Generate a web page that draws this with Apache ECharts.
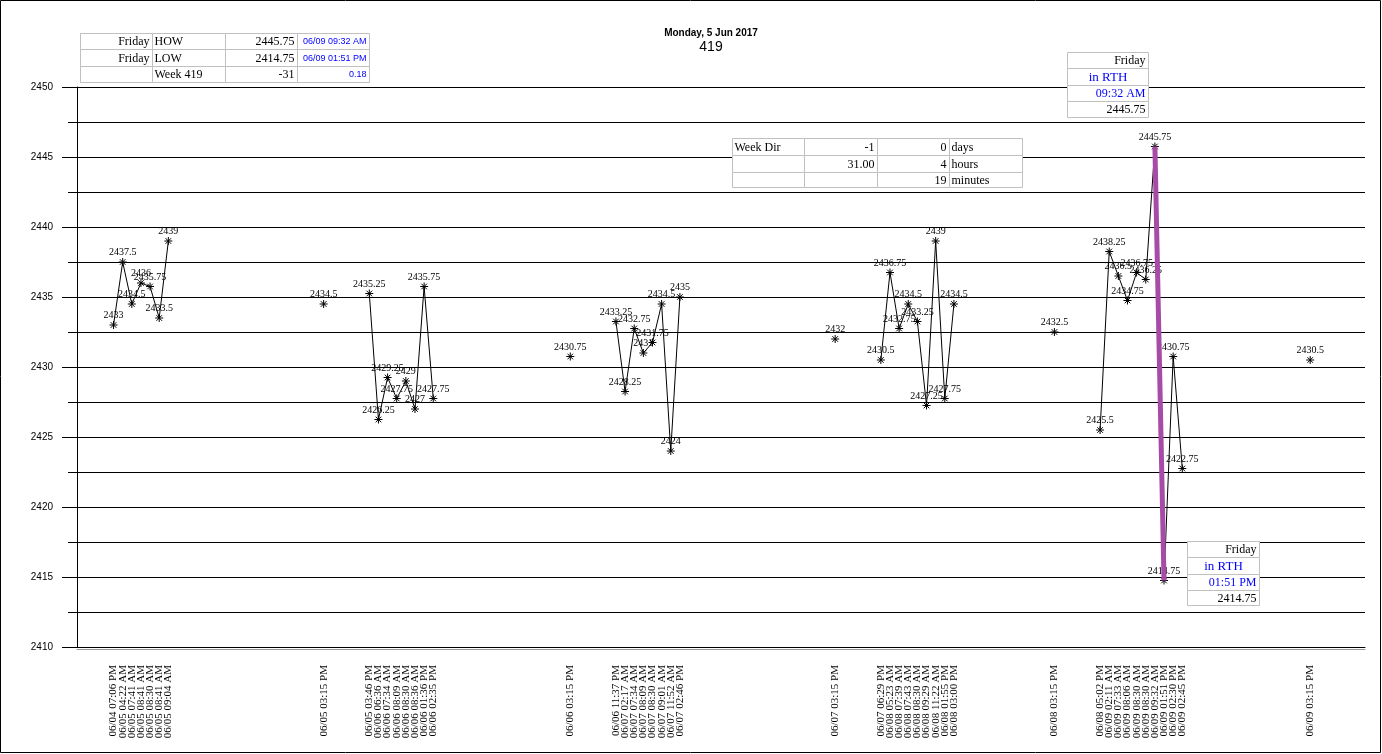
<!DOCTYPE html>
<html>
<head>
<meta charset="utf-8">
<script src="https://cdn.jsdelivr.net/npm/echarts/dist/echarts.min.js"></script>
<style>html,body{margin:0;padding:0;background:#fff;}#c{width:1382px;height:754px;}</style>
</head>
<body>
<div id="c"></div>
<script>
// ---- data ----
const timeLabels = [
  '06/04 07:06 PM','06/05 04:22 AM','06/05 07:41 AM','06/05 08:41 AM','06/05 08:30 AM','06/05 08:41 AM','06/05 09:04 AM',
  '06/05 03:15 PM',
  '06/05 03:46 PM','06/06 06:36 AM','06/06 07:34 AM','06/06 08:09 AM','06/06 08:30 AM','06/06 08:36 AM','06/06 01:36 PM','06/06 02:35 PM',
  '06/06 03:15 PM',
  '06/06 11:37 PM','06/07 02:17 AM','06/07 07:34 AM','06/07 08:09 AM','06/07 08:30 AM','06/07 09:01 AM','06/07 11:52 AM','06/07 02:46 PM',
  '06/07 03:15 PM',
  '06/07 06:29 PM','06/08 05:23 AM','06/08 07:39 AM','06/08 07:43 AM','06/08 08:30 AM','06/08 09:29 AM','06/08 11:22 AM','06/08 01:55 PM','06/08 03:00 PM',
  '06/08 03:15 PM',
  '06/08 05:02 PM','06/09 02:11 AM','06/09 07:33 AM','06/09 08:06 AM','06/09 08:30 AM','06/09 08:30 AM','06/09 09:32 AM','06/09 01:51 PM','06/09 02:30 PM','06/09 02:45 PM',
  '06/09 03:15 PM'
];
const prices = [
  2433, 2437.5, 2434.5, 2436, 2435.75, 2433.5, 2439,
  2434.5,
  2435.25, 2426.25, 2429.25, 2427.75, 2429, 2427, 2435.75, 2427.75,
  2430.75,
  2433.25, 2428.25, 2432.75, 2431, 2431.75, 2434.5, 2424, 2435,
  2432,
  2430.5, 2436.75, 2432.75, 2434.5, 2433.25, 2427.25, 2439, 2427.75, 2434.5,
  2432.5,
  2425.5, 2438.25, 2436.5, 2434.75, 2436.75, 2436.25, 2445.75, 2414.75, 2430.75, 2422.75,
  2430.5
];
// empty category slots placed before each point (breaks between sessions)
const gapBefore = [
  4, 0, 0, 0, 0, 0, 0,
  16,
  4, 0, 0, 0, 0, 0, 0, 0,
  14,
  4, 0, 0, 0, 0, 0, 0, 0,
  16,
  4, 0, 0, 0, 0, 0, 0, 0, 0,
  10,
  4, 0, 0, 0, 0, 0, 0, 0, 0, 0,
  13
];
const trailingGap = 6;
const yTicks = {min: 2410, max: 2450, step: 5};

// ---- build category axis ----
const cats = [], vals = [];
timeLabels.forEach((t, i) => {
  for (let k = 0; k < gapBefore[i]; k++) { cats.push(''); vals.push(null); }
  cats.push(t); vals.push(prices[i]);
});
for (let k = 0; k < trailingGap; k++) { cats.push(''); vals.push(null); }

const hi = Math.max(...prices), lo = Math.min(...prices);
const hiIdx = vals.indexOf(hi), loIdx = vals.indexOf(lo);
const hiLoVals = vals.map((v, i) => (i === hiIdx || i === loIdx) ? v : null);

// ---- tables (graphic) ----
const SERIF = '12px "Liberation Serif"';
const SMALL = '9px "Liberation Sans"';
const BLUE = '#0000ff';
function table(x, y, colW, rowH, rows) {
  const els = [];
  let yy = y;
  rows.forEach((row, r) => {
    let xx = x;
    row.forEach((cell, c) => {
      const w = colW[c], h = rowH[r];
      els.push({type: 'rect', shape: {x: xx, y: yy, width: w, height: h},
        style: {fill: '#fff', stroke: '#c0c0c0', lineWidth: 1}, z: 100});
      if (cell && cell.t !== '') {
        const al = cell.a || 'left';
        const tx = al === 'left' ? xx + 2 : al === 'right' ? xx + w - 3 : xx + w / 2;
        els.push({type: 'text', x: tx, y: yy + h / 2 + 0.5, z: 101,
          style: {text: cell.t, font: cell.f || SERIF, fill: cell.col || '#000',
            textAlign: al, textVerticalAlign: 'middle', align: al, verticalAlign: 'middle'}});
      }
      xx += w;
    });
    yy += rowH[r];
  });
  return els;
}
const fmt = v => String(v);
const graphics = [].concat(
  [{type: 'rect', shape: {x: 0.5, y: 0.5, width: 1380, height: 752}, style: {fill: 'none', stroke: '#000', lineWidth: 1}, z: 200}],
  [{type: 'text', x: 711, y: 33, style: {text: 'Monday, 5 Jun 2017', font: 'bold 10px "Liberation Sans"', fill: '#000', textAlign: 'center', textVerticalAlign: 'middle', align: 'center', verticalAlign: 'middle'}},
   {type: 'text', x: 711, y: 47, style: {text: '419', font: '14px "Liberation Sans"', fill: '#000', textAlign: 'center', textVerticalAlign: 'middle', align: 'center', verticalAlign: 'middle'}}],
  table(80.5, 33.5, [72, 73, 72, 72], [16, 17, 16], [
    [{t: 'Friday', a: 'right'}, {t: 'HOW'}, {t: fmt(hi), a: 'right'}, {t: '06/09 09:32 AM', a: 'right', f: SMALL, col: BLUE}],
    [{t: 'Friday', a: 'right'}, {t: 'LOW'}, {t: fmt(lo), a: 'right'}, {t: '06/09 01:51 PM', a: 'right', f: SMALL, col: BLUE}],
    [{t: ''}, {t: 'Week 419'}, {t: fmt(lo - hi), a: 'right'}, {t: '0.18', a: 'right', f: SMALL, col: BLUE}]
  ]),
  table(732.5, 138.5, [72, 73, 72, 73], [17, 17, 15], [
    [{t: 'Week Dir'}, {t: '-1', a: 'right'}, {t: '0', a: 'right'}, {t: 'days'}],
    [{t: ''}, {t: '31.00', a: 'right'}, {t: '4', a: 'right'}, {t: 'hours'}],
    [{t: ''}, {t: ''}, {t: '19', a: 'right'}, {t: 'minutes'}]
  ]),
  table(1067.5, 52.5, [81], [16, 17, 16, 16], [
    [{t: 'Friday', a: 'right'}],
    [{t: 'in RTH', a: 'center', col: BLUE, f: '13px "Liberation Serif"'}],
    [{t: '09:32 AM', a: 'right', col: BLUE}],
    [{t: fmt(hi), a: 'right'}]
  ]),
  table(1187.5, 541.5, [72], [16, 17, 16, 15], [
    [{t: 'Friday', a: 'right'}],
    [{t: 'in RTH', a: 'center', col: BLUE, f: '13px "Liberation Serif"'}],
    [{t: '01:51 PM', a: 'right', col: BLUE}],
    [{t: fmt(lo), a: 'right'}]
  ])
);

const chart = echarts.init(document.getElementById('c'), null, {renderer: 'canvas'});
chart.setOption({
  animation: false,
  backgroundColor: '#fff',
  grid: {left: 77, right: 17, top: 87, bottom: 107, containLabel: false},
  xAxis: {
    type: 'category', data: cats, boundaryGap: false,
    axisLine: {lineStyle: {color: '#000', width: 1, shadowColor: '#999', shadowOffsetY: 2}},
    axisTick: {show: false},
    axisLabel: {interval: 0, rotate: 90, margin: 18, fontFamily: 'Liberation Serif', fontSize: 11, color: '#000'},
    splitLine: {show: false}
  },
  yAxis: {
    type: 'value', min: yTicks.min, max: yTicks.max, interval: yTicks.step,
    axisLine: {show: true, lineStyle: {color: '#000'}},
    axisTick: {show: true, length: 15, lineStyle: {color: '#000'}},
    minorTick: {show: true, splitNumber: 2, length: 9, lineStyle: {color: '#000'}},
    splitLine: {show: true, lineStyle: {color: '#000', width: 1}},
    minorSplitLine: {show: true, lineStyle: {color: '#000', width: 1}},
    axisLabel: {margin: 24, fontFamily: 'Liberation Sans', fontSize: 10, color: '#000', formatter: v => String(v)}
  },
  series: [
    {
      type: 'line', data: vals, connectNulls: false,
      symbol: 'path://M0,5L10,5M5,0L5,10M1.5,1.5L8.5,8.5M8.5,1.5L1.5,8.5',
      symbolSize: 8,
      lineStyle: {color: '#000', width: 1},
      itemStyle: {color: '#000', borderColor: '#000', borderWidth: 1},
      label: {show: true, position: 'top', distance: 0, fontFamily: 'Liberation Serif', fontSize: 10, color: '#000'},
      z: 3
    },
    {
      type: 'line', data: hiLoVals, connectNulls: false, symbol: 'none',
      lineStyle: {color: '#a64ca6', width: 5},
      z: 4
    }
  ],
  graphic: graphics
});
</script>
</body>
</html>
